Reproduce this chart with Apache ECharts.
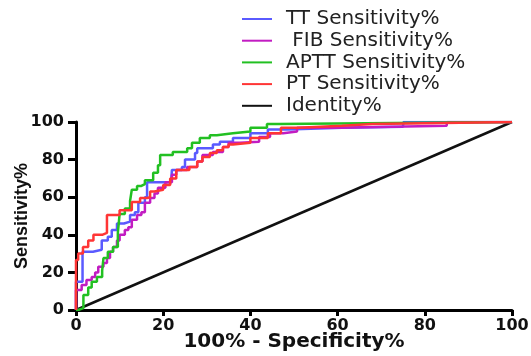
<!DOCTYPE html>
<html><head><meta charset="utf-8">
<script src="https://cdn.jsdelivr.net/npm/echarts@6/dist/echarts.min.js"></script>
<style>html,body{margin:0;padding:0;background:#fff}#c{width:531px;height:356px}</style>
</head><body><div id="c"></div>
<script>
var xTicks = [0, 20, 40, 60, 80, 100];
var yTicks = [0, 20, 40, 60, 80, 100];
var seriesNames = ['TT Sensitivity%', ' FIB Sensitivity%', 'APTT Sensitivity%', 'PT Sensitivity%', 'Identity%'];
var ttData = [[0,0],[0,15],[1.5,31],[3.9,32],[5.9,37],[7.3,39],[8.2,42.5],[9.4,46],[11,47],[12.4,50.5],[13.5,52],[14.3,57],[15.8,60],[16.3,68],[21.8,68],[22,74.5],[24.3,76],[25,80],[27.3,83.5],[27.8,86],[31.4,88],[33,89.5],[36,91.5],[40,94],[44,96],[48.4,97],[61,97.5],[75,98],[75.1,100],[100,100]];
var fibData = [[0,0],[0,10.6],[1.3,13.3],[2.4,16],[3.6,17.5],[4.4,20],[5.1,23],[6.3,25],[7.1,27.6],[7.8,31],[8.5,33.5],[9.4,37],[10,40],[11.2,42.5],[12,44],[12.8,48],[14,50.5],[15,52],[15.8,57],[17,59.6],[18,62],[18.8,65],[20.5,68],[22,72],[23,74.5],[25.5,76],[27.8,79],[29,82.5],[31.4,84],[33.7,86.7],[35,89],[37.6,89.5],[42,92],[44.5,94],[47.5,95],[50.7,97],[60,98],[85,99],[85.1,100],[100,100]];
var apttData = [[0,0],[0.5,1],[1.7,8],[2.8,12],[3.6,15],[4.8,17.5],[6,21],[6.3,27.6],[7.3,31],[8.5,33.5],[9.6,41],[10,51],[11.2,54],[12.4,58],[12.8,64],[14,66],[15,67],[15.8,69],[17.7,73],[18.8,77],[19.3,82.4],[22.2,84],[25.5,86],[26.6,89],[28.4,91.5],[30.7,93],[32.3,94],[36,95],[40,97],[43.8,99],[46.3,100],[100,100]];
var ptData = [[0,0],[0,26.6],[0.5,30],[1.6,33.5],[2.8,37],[4,40],[6,41],[7.1,50.5],[10,53],[12.8,57.5],[14.7,59.6],[16.3,60],[17,63],[18,64],[20,66.5],[21.6,70],[23,74.5],[26,76],[27.8,79],[29,81.4],[30.7,83.5],[32.3,85],[33.7,86.7],[35,88],[36,89],[40,91.5],[44,94],[47,97],[51,98],[61,99],[68,100],[100,100]];
var identityData = [[0,0],[100,100]];
var colors = ['#5a5aff', '#c21cc2', '#22c022', '#ff3535', '#111111'];

var chart = echarts.init(document.getElementById('c'), null, {renderer: 'canvas'});
function stepSeries(name, data, color) {
  return {name: name, type: 'line', data: data, step: 'end', showSymbol: false, symbol: 'none',
    lineStyle: {color: color, width: 2.5}, itemStyle: {color: color}, animation: false, z: 2};
}
var axisFont = {fontFamily: 'DejaVu Sans', fontWeight: 'bold', fontSize: 16, color: '#111'};
chart.setOption({
  animation: false,
  grid: {left: 76, right: 19, top: 122, bottom: 46, containLabel: false, outerBoundsMode: 'none'},
  legend: {
    orient: 'vertical', left: 237, top: 4, itemWidth: 30, itemHeight: 2, itemGap: 1.7, icon: 'rect',
    textStyle: {fontFamily: 'DejaVu Sans', fontSize: 20, color: '#222', lineHeight: 20, padding: [0, 0, 0, 9]},
    data: seriesNames
  },
  xAxis: {
    type: 'value', min: 0, max: 100, interval: 20,
    name: '100% - Specificity%', nameLocation: 'middle', nameGap: 22, nameMoveOverlap: false,
    nameTextStyle: {fontFamily: 'DejaVu Sans', fontWeight: 'bold', fontSize: 20, color: '#111'},
    axisLine: {lineStyle: {color: '#000', width: 3}},
    axisTick: {show: true, length: 6, lineStyle: {color: '#000', width: 3}},
    axisLabel: Object.assign({margin: 8, formatter: function(v){return xTicks.indexOf(v) >= 0 ? String(v) : '';}}, axisFont),
    splitLine: {show: false}
  },
  yAxis: {
    type: 'value', min: 0, max: 100, interval: 20,
    name: 'Sensitivity%', nameLocation: 'middle', nameGap: 45, nameRotate: 90, nameMoveOverlap: false,
    nameTextStyle: {fontFamily: 'Liberation Sans', fontWeight: 'bold', fontSize: 18, color: '#111'},
    axisLine: {show: true, lineStyle: {color: '#000', width: 3}},
    axisTick: {show: true, length: 8, lineStyle: {color: '#000', width: 3}},
    axisLabel: Object.assign({margin: 12, formatter: function(v){return yTicks.indexOf(v) >= 0 ? String(v) : '';}}, axisFont),
    splitLine: {show: false}
  },
  series: [
    stepSeries(seriesNames[0], ttData, colors[0]),
    stepSeries(seriesNames[1], fibData, colors[1]),
    stepSeries(seriesNames[2], apttData, colors[2]),
    stepSeries(seriesNames[3], ptData, colors[3]),
    {name: seriesNames[4], type: 'line', data: identityData, showSymbol: false, symbol: 'none',
      lineStyle: {color: colors[4], width: 2.5}, itemStyle: {color: colors[4]}, z: 1}
  ]
});
</script></body></html>
